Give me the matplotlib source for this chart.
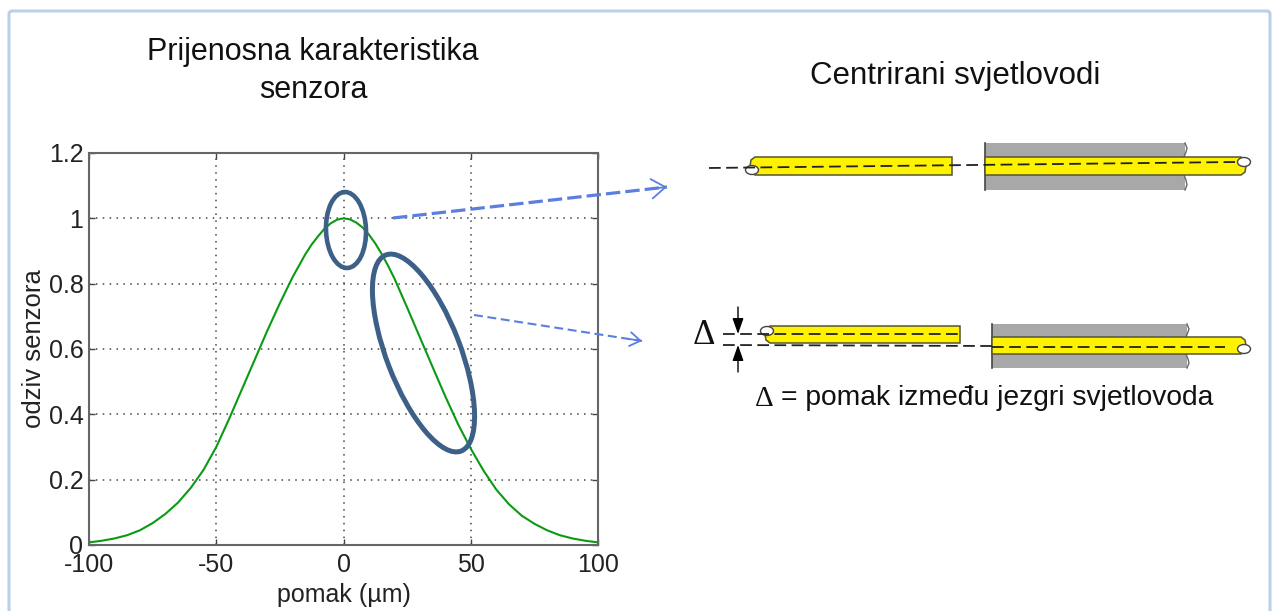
import numpy as np
import matplotlib
matplotlib.use('Agg')
import matplotlib.pyplot as plt
from matplotlib.patches import Ellipse, Rectangle, Polygon, FancyBboxPatch

plt.rcParams['font.family'] = ['Liberation Sans', 'DejaVu Sans']
plt.rcParams['axes.unicode_minus'] = False

# values
pomak = [-100, -95, -90, -85, -80, -75, -70, -65, -60, -55, -50, -45, -40, -35, -30, -25, -20, -15, -12.5, -10, -7.5, -5, -2.5, 0,
         2.5, 5, 7.5, 10, 12.5, 15, 17.5, 20, 25, 30, 35, 40, 45, 50, 55, 60, 65, 70, 75, 80, 85, 90, 95, 100]
odziv = [0.008, 0.013, 0.02, 0.03, 0.045, 0.067, 0.095, 0.13, 0.175, 0.23, 0.30, 0.385, 0.475, 0.565, 0.655, 0.74, 0.82, 0.89, 0.92, 0.945, 0.968, 0.985, 0.996, 1.0,
         0.997, 0.987, 0.972, 0.95, 0.923, 0.891, 0.855, 0.816, 0.727, 0.636, 0.545, 0.455, 0.37, 0.295, 0.228, 0.17, 0.125, 0.09, 0.065, 0.045, 0.03, 0.02, 0.013, 0.008]
x_ticks = [-100, -50, 0, 50, 100]
y_ticks = [0, 0.2, 0.4, 0.6, 0.8, 1, 1.2]
y_tick_labels = ['0', '0.2', '0.4', '0.6', '0.8', '1', '1.2']

W, H = 1275, 611
fig = plt.figure(figsize=(W/100, H/100), dpi=100, facecolor='white')

# graf
ax = fig.add_axes([89/W, 1-545/H, (598-89)/W, (545-153)/H], zorder=2)
ax.plot(pomak, odziv, color='#0a9a14', lw=1.5)
ax.set_xlim(-100, 100)
ax.set_ylim(0, 1.2)
ax.set_xticks(x_ticks)
ax.set_yticks(y_ticks)
ax.set_yticklabels(y_tick_labels)
ax.grid(True, ls=(0, (1, 3.5)), color='#444444', lw=1.1)
ax.tick_params(direction='in', top=True, right=True, length=4, width=1, color='#444444',
               labelsize=18, labelcolor='#222222', pad=4)
ax.tick_params(axis='x', pad=6)
for s in ax.spines.values():
    s.set_color('#666666')
    s.set_linewidth(1.5)
ax.set_xlabel('pomak (\u00b5m)', fontsize=18, color='#222222', labelpad=4)
ax.set_ylabel('odziv senzora', fontsize=18.5, color='#222222', labelpad=2)
ax.patch.set_alpha(0)

# sloj u pikselima za sve ostalo
ov = fig.add_axes([0, 0, 1, 1], zorder=3)
ov.set_xlim(0, W)
ov.set_ylim(H, 0)
ov.axis('off')

ov.add_patch(FancyBboxPatch((9, 11), 1261, 640, boxstyle='round,pad=0,rounding_size=3',
                            fc='none', ec='#b9d0e8', lw=2.2))

ov.text(313, 52, 'Prijenosna karakteristika', fontsize=22, ha='center', va='center', color='#111111')
ov.text(313, 90, 'senzora', fontsize=22, ha='center', va='center', color='#111111')
ov.text(955, 76, 'Centrirani svjetlovodi', fontsize=22.5, ha='center', va='center', color='#111111')

# elipse
el_col = '#3d6088'
ov.add_patch(Ellipse((346, 230), 40, 76, angle=-2, fc='none', ec=el_col, lw=3.3))
ov.add_patch(Ellipse((423.5, 353), 74, 210, angle=-21, fc='none', ec=el_col, lw=3.6))


def arrow(x0, y0, x1, y1, lw, dash, head):
    col = '#5b7fdf'
    ov.plot([x0, x1], [y0, y1], color=col, lw=lw, ls=(0, dash))
    d = np.array([x1-x0, y1-y0], dtype=float)
    d /= np.hypot(*d)
    ov.annotate('', xy=(x1, y1), xytext=(x1-d[0]*14, y1-d[1]*14),
                arrowprops=dict(arrowstyle=head, color=col, lw=1.3, shrinkA=0, shrinkB=0))


arrow(393, 218, 667, 187, 2.3, (4.5, 1.6), '->,head_length=1.0,head_width=0.7')
arrow(474, 315, 642, 341, 1.5, (4.3, 2.2), '->,head_length=0.75,head_width=0.5')


def fiber(x0, x1, y0, y1, left_end=False, right_end=False, hole_top=False):
    # zuto vlakno, na slobodnom kraju zaobljen rub i mali bijeli krug
    h = y1-y0
    if left_end:
        left = [(x0+5, y1), (x0+1, y1-3), (x0, y0+h/2), (x0+1, y0+3), (x0+5, y0)]
    else:
        left = [(x0, y1), (x0, y0)]
    if right_end:
        right = [(x1-5, y0), (x1-1, y0+3), (x1, y0+h/2), (x1-1, y1-3), (x1-5, y1)]
    else:
        right = [(x1, y0), (x1, y1)]
    ov.add_patch(Polygon(left+right, closed=True, fc='#fff200', ec='#555533', lw=1.1, zorder=3))
    yh = y0+5 if hole_top else y1-5
    if left_end:
        ov.add_patch(Ellipse((x0+2, yh), 13, 9, fc='white', ec='#444444', lw=1, zorder=4))
    if right_end:
        ov.add_patch(Ellipse((x1-2, yh), 13, 9, fc='white', ec='#444444', lw=1, zorder=4))


def sleeve(x0, x1, y0, y1, yf0, yf1):
    ov.add_patch(Rectangle((x0, y0), x1-x0, y1-y0, fc='#a8a8a8', ec='none', zorder=2))
    ov.plot([x0, x0], [y0, y1], color='#444444', lw=1.2, zorder=2.5)
    # zaobljen kraj iznad i ispod vlakna
    ov.plot([x1, x1+2, x1+1, x1-1], [y0, y0+5, yf0-5, yf0], color='#666666', lw=1, zorder=2.5)
    ov.plot([x1-1, x1+1, x1+2, x1], [yf1, yf1+5, y1-5, y1], color='#666666', lw=1, zorder=2.5)


dash_kw = dict(color='#222222', lw=1.3, ls=(0, (6.5, 3)), zorder=5)

# gornji par
sleeve(985, 1185, 143, 190, 157, 175)
fiber(750, 952, 157, 175, left_end=True)
fiber(985, 1246, 157, 175, right_end=True, hole_top=True)
ov.plot([709, 1235], [168, 162], **dash_kw)

# donji par
sleeve(992, 1187, 324, 368, 337, 354)
fiber(765, 960, 326, 343, left_end=True, hole_top=True)
fiber(992, 1246, 337, 354, right_end=True)
ov.plot([723, 960], [334, 334], **dash_kw)
ov.plot([723, 992], [345, 346], **dash_kw)
ov.plot([992, 1225], [347, 347], **dash_kw)

# oznaka pomaka
for ya, yb in [(334, 307), (345, 372)]:
    ov.annotate('', xy=(738, ya), xytext=(738, yb),
                arrowprops=dict(arrowstyle='-|>,head_length=0.68,head_width=0.24', mutation_scale=14,
                                color='black', lw=1, shrinkA=0, shrinkB=0))
ov.text(704, 336, '\u0394', fontsize=25, family='Liberation Serif', ha='center', va='center', color='#111111')
ov.text(764, 399, '\u0394', fontsize=21, family='Liberation Serif', ha='center', va='center', color='#111111')
ov.text(781, 398, '= pomak izme\u0111u jezgri svjetlovoda', fontsize=20.3, ha='left', va='center', color='#111111')

fig.savefig('out.png', dpi=100)
